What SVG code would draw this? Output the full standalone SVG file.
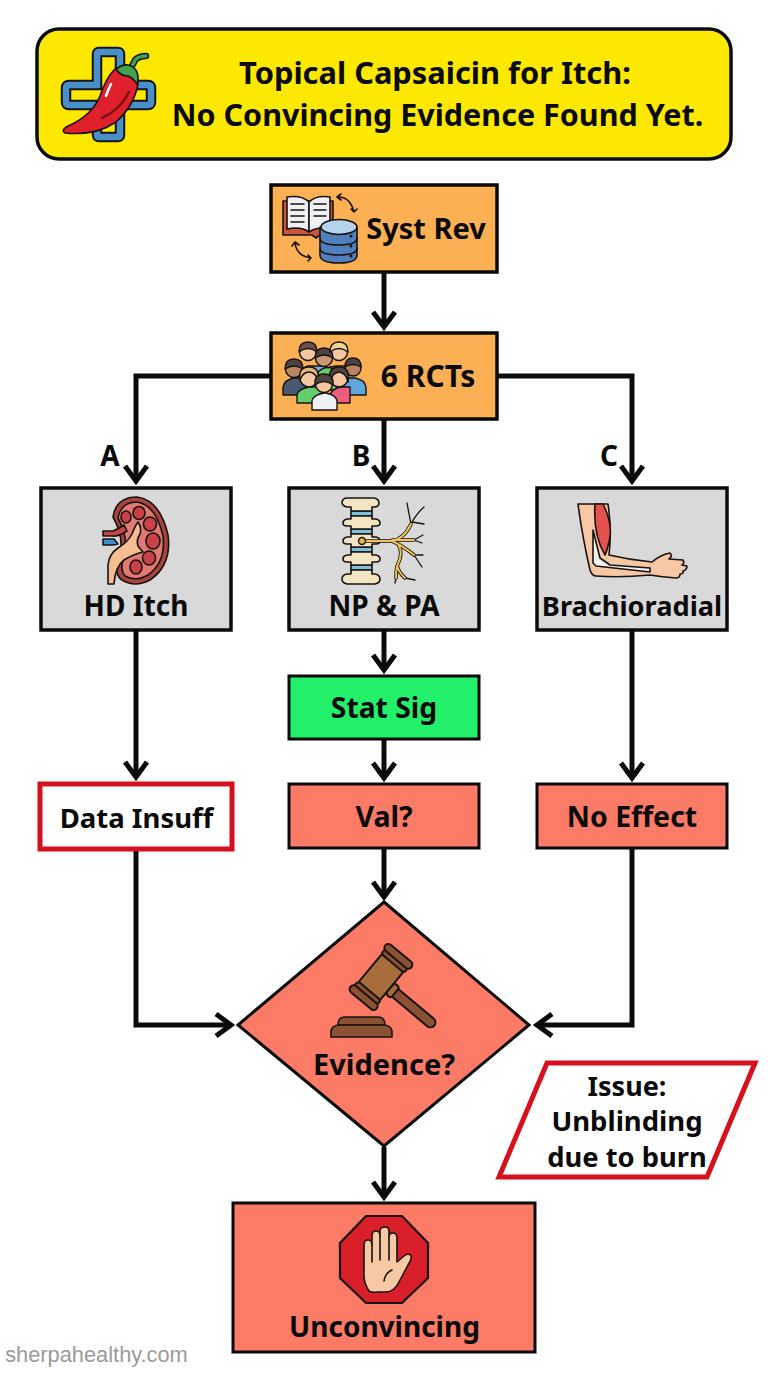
<svg xmlns="http://www.w3.org/2000/svg" width="768" height="1376" viewBox="0 0 768 1376">
<style>
text{font-family:"Noto Sans","Open Sans","Liberation Sans",sans-serif;font-weight:700;fill:#0a0a0a;text-anchor:middle;font-size:28px}
.orange{fill:#fbb054;stroke:#0a0a0a;stroke-width:3.5}
.grey{fill:#d9d9d9;stroke:#0a0a0a;stroke-width:3.5}
.salmon{fill:#fb7b66;stroke:#0a0a0a;stroke-width:3}
.green{fill:#22f06a;stroke:#0a0a0a;stroke-width:3}
.conn{fill:none;stroke:#0a0a0a;stroke-width:5;marker-end:url(#a)}
.i{stroke:#1a1210;stroke-width:1.6;stroke-linejoin:round;stroke-linecap:round}
.l{fill:none;stroke:#1a1210;stroke-width:1.6;stroke-linecap:round;stroke-linejoin:round}
</style>
<defs>
<marker id="a" markerUnits="userSpaceOnUse" markerWidth="30" markerHeight="26" refX="20" refY="13" orient="auto" viewBox="0 0 30 26">
<path d="M5 2 L20 13 L5 24" fill="none" stroke="#0a0a0a" stroke-width="5"/></marker>
</defs>
<rect width="768" height="1376" fill="#fff"/>

<g id="connectors">
<path class="conn" d="M384 272V327"/>
<path class="conn" d="M271 376H136V481"/>
<path class="conn" d="M384 419V481"/>
<path class="conn" d="M497 376H632V481"/>
<path class="conn" d="M384 630V670"/>
<path class="conn" d="M384 739V778"/>
<path class="conn" d="M136 630V777"/>
<path class="conn" d="M632 630V778"/>
<path class="conn" d="M384 848V897"/>
<path class="conn" d="M136 850V1025H231"/>
<path class="conn" d="M632 848V1025H537"/>
<path class="conn" d="M384 1147V1197"/>
</g>

<g id="title">
<rect x="37" y="29" width="694" height="130" rx="22" fill="#fde900" stroke="#0a0a0a" stroke-width="3.500"/>
<path d="M99 52Q97 52 97 54V85H69Q66 85 66 88V102Q66 105 69 105H97V135Q97 137 99 137H118Q120 137 120 135V105H148Q151 105 151 102V88Q151 85 148 85H120V54Q120 52 118 52Z" fill="none" stroke="#141414" stroke-width="10.500"/>
<path d="M99 52Q97 52 97 54V85H69Q66 85 66 88V102Q66 105 69 105H97V135Q97 137 99 137H118Q120 137 120 135V105H148Q151 105 151 102V88Q151 85 148 85H120V54Q120 52 118 52Z" fill="none" stroke="#4a90c8" stroke-width="6.500"/>
<path d="M128 70Q133 66 135 60Q139 56 146 56" fill="none" stroke="#141414" stroke-width="6.500" stroke-linecap="round"/>
<path d="M128 70Q133 66 135 60Q139 56 146 56" fill="none" stroke="#3fa34d" stroke-width="3.500" stroke-linecap="round"/>
<path class="i" d="M114 70Q106 78 100 96Q92 116 66 127Q61 131 65 133Q96 136 116 122Q134 106 138 84Q136 72 126 68Q118 66 114 70Z" fill="#e0202a" stroke-width="2.500"/>
<path class="i" d="M116 69Q123 64 128 65Q134 66 137 72Q139 78 137 84Q133 78 128 76Q120 76 116 69Z" fill="#3fa34d" stroke-width="2"/>
<path d="M106 96Q108 90 111 84" fill="none" stroke="#fff" stroke-width="2.500" stroke-linecap="round"/>
<path d="M102 118Q120 110 129 92" fill="none" stroke="#7d0f14" stroke-width="2.500" stroke-linecap="round"/>
<text x="435" y="84" style="font-size:30.800px">Topical Capsaicin for Itch:</text>
<text x="437.500" y="126" style="font-size:30.500px">No Convincing Evidence Found Yet.</text>
</g>

<g id="syst-rev">
<rect class="orange" x="271" y="185" width="226" height="87"/>
<path class="i" d="M283 201V235H312L316 238L320 235H333V201Z" fill="#c8553d"/>
<path class="i" d="M287 197Q302 195 309 202V232Q301 226 287 229Z" fill="#eef1f4"/>
<path class="i" d="M330 197Q316 195 309 202V232Q318 226 330 229Z" fill="#eef1f4"/>
<path class="l" d="M291 204H304M291 210H304M291 216H304M291 222H304M314 204H326M314 210H326M314 216H326"/>
<path class="i" d="M320 227V255Q320 263 339 263Q357 263 357 255V227Z" fill="#4f7fbd"/>
<ellipse class="i" cx="339" cy="227" rx="18" ry="7.500" fill="#b5d3ec"/>
<path class="l" d="M320 238Q320 245 339 245Q357 245 357 238M320 248Q320 255 339 255Q357 255 357 248"/>
<circle cx="351" cy="236" r="1.500" fill="#1a1210"/><circle cx="351" cy="246" r="1.500" fill="#1a1210"/><circle cx="351" cy="256" r="1.500" fill="#1a1210"/>
<path class="l" d="M337 197Q350 196 354 212M337 197l4-3M337 197l4 3M354 212l-3-3M354 212l3-3M295 242Q296 256 311 258M295 242l-3 4M295 242l4 3M311 258l-3-3M311 258l-3 3"/>
<text x="426" y="239" style="font-size:29px">Syst Rev</text>
</g>

<g id="rcts">
<rect class="orange" x="271" y="333" width="226" height="86"/>
<g fill="#f4c7a0" stroke="#1a1210" stroke-width="1.400" stroke-linejoin="round">
<path d="M299 378Q300 368 308 366H326V390H299Z" fill="#7db0d8"/><path d="M318 378Q322 367 336 366H348V390H318Z" fill="#74c27a"/>
<circle cx="308" cy="352" r="8.500"/><circle cx="339" cy="352" r="8.500"/><circle cx="324" cy="358" r="8.500" fill="#c99672"/>
<path d="M299 352Q299 342 308 342Q317 342 317 352Q308 345 299 352Z" fill="#6b5148"/><path d="M315 358Q315 348 324 348Q333 348 333 358Q324 352 315 358Z" fill="#4d4340"/><path d="M330 352Q330 342 339 342Q348 342 348 352Q339 345 330 352Z" fill="#f0d58c"/>
<path d="M318 372Q324 366 332 368L334 382H318Z" fill="#63cc6c"/>
<path d="M283 395V387Q284 380 294 378H306V395Z" fill="#4a5870"/><circle cx="294" cy="369" r="8.500" fill="#b98660"/><path d="M285 369Q285 359 294 359Q303 359 303 369Q294 363 285 369Z" fill="#4d4340"/>
<path d="M366 395V387Q365 380 355 378H344V395Z" fill="#5ea6dc"/><circle cx="353" cy="368" r="8" fill="#b98660"/><path d="M345 367Q345 358 353 358Q361 358 361 367Q353 362 345 367Z" fill="#4d4340"/>
<path d="M297 403V395Q298 389 309 387H323V403Z" fill="#63cc6c"/><circle cx="309" cy="378" r="9"/><path d="M300 380Q298 367 309 367Q320 367 318 380Q315 372 309 372Q303 372 300 380Z" fill="#e8b77e"/>
<path d="M330 403V395Q332 389 340 387H350V403Z" fill="#ec5c7f"/><circle cx="339" cy="378" r="9"/><path d="M330 382Q327 367 339 367Q351 367 348 382Q346 373 339 372Q332 373 330 382Z" fill="#4d4340"/>
<path d="M312 410V401Q313 395 324 393H326Q336 395 337 401V410Z" fill="#eef1f4"/><circle cx="324" cy="384" r="8.500"/><path d="M315 385Q314 374 324 374Q334 374 333 385Q324 378 315 385Z" fill="#4d4340"/>
</g>
<text x="428" y="387" style="font-size:30px">6 RCTs</text>
</g>

<text x="110" y="466" id="label-a">A</text>
<text x="361" y="466" id="label-b">B</text>
<text x="609" y="466" id="label-c">C</text>

<g id="hd-itch">
<rect class="grey" x="41" y="488" width="190" height="142"/>
<path class="i" d="M113 517Q116 497 137 497Q160 500 168 535Q172 565 150 580Q135 588 122 580Q114 575 118 560Q126 540 113 517Z" fill="#a8433f" stroke-width="1.800"/>
<path class="i" d="M118 518Q121 502 137 502Q156 505 163 536Q166 562 148 575Q136 582 125 576Q120 570 123 560Q130 540 118 518Z" fill="#e07a72"/>
<g class="i" fill="#c9424a"><ellipse cx="126" cy="517" rx="5" ry="6"/><ellipse cx="139" cy="513" rx="6" ry="6.500"/><ellipse cx="150" cy="524" rx="6.500" ry="7"/><ellipse cx="153" cy="541" rx="7" ry="8"/><ellipse cx="149" cy="558" rx="6.500" ry="7"/><ellipse cx="136" cy="567" rx="6" ry="7"/></g>
<path class="i" d="M108 584V565Q109 554 118 548Q128 542 132 534Q135 526 138 522Q142 528 140 534Q136 540 138 546Q141 550 143 552Q134 554 124 560Q115 567 114 584Z" fill="#f6bd90"/>
<path class="i" d="M103 531H113Q120 528 124 525L127 531Q118 537 112 536H103Z" fill="#cc4444"/>
<path class="i" d="M103 539H114L118 544L113 545H103Z" fill="#3f8fcc"/>
<text x="136" y="616">HD Itch</text>
</g>

<g id="np-pa">
<rect class="grey" x="289" y="488" width="190" height="142"/>
<g class="i" fill="#7cc0dc"><rect x="351" y="511" width="21" height="5"/><rect x="351" y="529" width="21" height="5"/><rect x="351" y="547" width="21" height="5"/><rect x="351" y="565" width="21" height="5"/></g>
<g class="i" fill="#f2e5c4">
<path d="M347 498H374Q379 499 379 503Q379 507 374 507H372V511H351V507H347Q342 506 342 502Q343 498 347 498Z"/>
<path d="M351 516H372V519H376Q380 520 380 523Q380 526 376 526H372V529H351V526H347Q343 526 343 523Q343 520 347 519H351Z"/>
<path d="M351 534H372V537H376Q380 538 380 541Q380 544 376 544H372V547H351V544H347Q343 544 343 541Q343 538 347 537H351Z"/>
<path d="M351 552H372V555H376Q380 556 380 559Q380 562 376 562H372V565H351V562H347Q343 562 343 559Q343 556 347 555H351Z"/>
<path d="M351 570H372V574H375Q380 575 380 579Q380 583 375 584H347Q342 583 342 579Q342 575 347 574H351Z"/>
</g>
<g fill="none" stroke-linecap="round" stroke-linejoin="round">
<path d="M411 524Q409 514 407 503M412 522Q418 512 424 507M412 522L424 524M414 540L423 535M414 540L422 543M416 555L423 555M414 555L422 567M396 578L395 583M405 578L415 580" stroke="#1a1210" stroke-width="1.300"/>
<path d="M363 541H392Q404 539 411 524M392 540H414M392 541Q403 546 414 555M398 544Q404 553 397 566Q396 572 396 578M397 566Q400 574 405 578" stroke="#1a1210" stroke-width="3.600"/>
<path d="M363 541H392Q404 539 411 524M392 540H414M392 541Q403 546 414 555M398 544Q404 553 397 566Q396 572 396 578M397 566Q400 574 405 578" stroke="#ecc25e" stroke-width="2"/></g>
<circle cx="362" cy="541" r="3.500" fill="#e5b94c" stroke="#1a1210" stroke-width="1.400"/>
<text x="384" y="616">NP &amp; PA</text>
</g>

<g id="brachioradial">
<rect class="grey" x="537" y="488" width="190" height="142"/>
<path class="i" d="M578 504H608Q612 530 609 555Q630 560 652 562Q660 555 670 553Q673 556 669 559L683 560Q685 563 682 565L687 566Q687 570 683 571Q684 574 680 574Q680 578 676 578Q662 577 650 575Q620 578 596 576Q592 576 590 570Q582 535 578 504Z" fill="#f5c7a5"/>
<path class="i" d="M593 530L600 558L610 565L650 568V572L596 566L593 563Z" fill="#eef0f2"/>
<path class="i" d="M595 504H603Q612 522 610 537Q608 548 605 555Q593 535 595 504Z" fill="#e4524f"/>
<text x="632" y="616" style="font-size:27.200px">Brachioradial</text>
</g>

<g id="stat-sig"><rect class="green" x="289" y="676" width="190" height="63"/><text x="384" y="718" style="font-size:28.300px">Stat Sig</text></g>
<g id="data-insuff"><rect x="40" y="784" width="192" height="65" fill="#fff" stroke="#d6111e" stroke-width="5"/><text x="136.500" y="828" style="font-size:27.500px">Data Insuff</text></g>
<g id="val"><rect class="salmon" x="289" y="784" width="190" height="64"/><text x="384" y="827" style="font-size:28.500px">Val?</text></g>
<g id="no-effect"><rect class="salmon" x="537" y="784" width="190" height="64"/><text x="632" y="827" style="font-size:28.500px">No Effect</text></g>

<g id="evidence">
<path class="salmon" d="M384 902L529 1025L384 1146L238 1025Z"/>
<g transform="translate(381 977) rotate(40)" stroke="#1a1210" stroke-width="2" stroke-linejoin="round">
<rect x="12" y="-2" width="60" height="10" rx="5" fill="#8a5233"/>
<rect x="14" y="-4" width="7" height="14" rx="3" fill="#a76e3b"/>
<rect x="-14" y="-19" width="28" height="38" rx="2" fill="#a76e3b"/>
<rect x="-15" y="-24" width="30" height="6" rx="3" fill="#8a5233"/>
<rect x="-15" y="18" width="30" height="6" rx="3" fill="#8a5233"/>
<rect x="-17" y="-31" width="34" height="8" rx="4" fill="#8a5233"/>
<rect x="-17" y="23" width="34" height="8" rx="4" fill="#8a5233"/>
</g>
<path class="i" d="M338 1025Q338 1017 345 1017H378Q385 1017 385 1025Z" fill="#8a5233" stroke-width="2"/>
<path class="i" d="M331 1037V1031Q332 1025 340 1025H383Q391 1025 392 1031V1037Z" fill="#8a5233" stroke-width="2"/>
<text x="384" y="1075" style="font-size:29px">Evidence?</text>
</g>

<g id="issue">
<path d="M547 1063H755L707 1177H499Z" fill="#fff" stroke="#d6111e" stroke-width="5"/>
<text x="627" y="1096" style="font-size:27px">Issue:</text>
<text x="627" y="1131" style="font-size:27.500px">Unblinding</text>
<text x="627" y="1167" style="font-size:27.300px">due to burn</text>
</g>

<g id="unconvincing">
<rect class="salmon" x="233" y="1203" width="302" height="149"/>
<path d="M366 1216H402L428 1243V1278L402 1303H366L340 1278V1243Z" fill="#d9202a" stroke="#1a1210" stroke-width="2.200"/>
<path class="i" d="M369 1291Q363 1282 364 1272V1245Q364 1240 368 1240Q372 1240 372 1245V1236Q372 1231 376 1231Q380 1231 380 1236V1231Q380 1227 385 1227Q389 1227 389 1231V1237Q389 1233 393 1233Q397 1233 397 1238V1262L404 1256Q409 1252 411 1256Q412 1259 408 1265L399 1282Q394 1292 386 1292H378Q372 1293 369 1291Z" fill="#f6c9a4" stroke-width="2.200"/>
<path class="l" d="M372 1245V1262M380 1236V1260M389 1237V1260M384 1281Q385 1273 392 1270" stroke-width="1.800"/>
<text x="384.500" y="1337">Unconvincing</text>
</g>

<text id="watermark" x="96.500" y="1362" style="font-family:'Liberation Sans',Arial,sans-serif;font-weight:400;font-size:21.800px;fill:#9a9a9a">sherpahealthy.com</text>
</svg>
